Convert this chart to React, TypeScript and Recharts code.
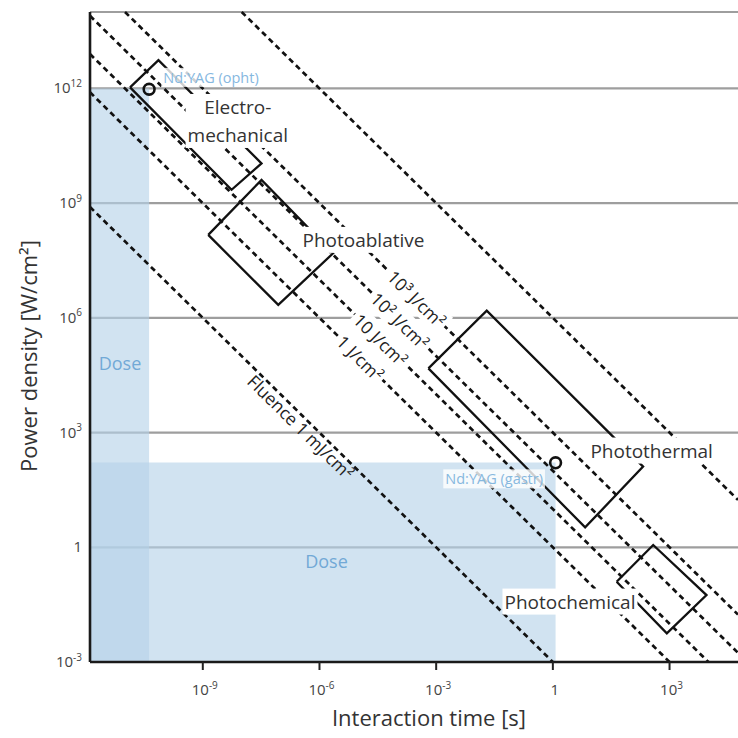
import React, { useLayoutEffect, useRef, useState } from 'react';
import {
  ComposedChart,
  XAxis,
  YAxis,
  CartesianGrid,
  ReferenceLine,
  ReferenceArea,
  ReferenceDot,
  Scatter,
} from 'recharts';

// ---- axes (log10 values) ----
const xDomain: [number, number] = [-11.9, 4.76]; // log10 interaction time [s]
const yDomain: [number, number] = [-3, 14]; // log10 power density [W/cm²]
const xTicks = [-9, -6, -3, 0, 3];
const yTicks = [-3, 0, 3, 6, 9, 12];

// ---- iso-fluence lines, log10 of fluence [J/cm²] ----
const fluences = [-3, 0, 1, 2, 3, 6];

// ---- fluence line labels (position in log10 t, log10 P) ----
const fluenceLabelText = ['10³ J/cm²', '10² J/cm²', '10 J/cm²', '1 J/cm²', 'Fluence 1 mJ/cm²'];
const fluenceLabelT = [-3.5, -3.93, -4.43, -4.95, -6.48];
const fluenceLabelP = [6.5, 5.93, 5.43, 4.95, 3.15];
const fluenceLabelBg = [true, true, true, true, false];

// ---- interaction regions (corners: left, top, right, bottom) ----
const electroT = [-10.87, -10.14, -7.49, -8.26];
const electroP = [12.03, 12.74, 10.04, 9.35];
const ablativeT = [-8.86, -7.49, -5.65, -7.06];
const ablativeP = [8.17, 9.61, 7.69, 6.34];
const thermalT = [-3.2, -1.7, 2.32, 0.83];
const thermalP = [4.68, 6.19, 2.11, 0.52];
const chemicalT = [1.64, 2.58, 3.95, 2.93];
const chemicalP = [-0.9, 0.06, -1.25, -2.25];

// ---- region names ----
const regionLines = [['Electro-', 'mechanical'], ['Photoablative'], ['Photothermal'], ['Photochemical']];
const regionLabelT = [-8.1, -4.87, 2.54, 0.44];
const regionLabelP = [11.15, 8.04, 2.53, -1.42];

// ---- Nd:YAG operating points ----
const ndyagNames = ['Nd:YAG (opht)', 'Nd:YAG (gastr)'];
const ndyagT = [-10.38, 0.07];
const ndyagP = [11.98, 2.21];
const ndyagLabelT = [-8.79, -1.51];
const ndyagLabelP = [12.29, 1.79];

// ---- dose bands ----
const doseBandT2 = [-10.38, 0.07];
const doseBandP2 = [12, 2.22];
const doseLabelT = [-11.13, -5.82];
const doseLabelP = [4.82, -0.37];

const FONT = '"Open Sans", "Noto Sans", sans-serif';
const INK = '#111';
const ANGLE = 44.5;

const toCorners = (ts: number[], ps: number[]) => {
  const pts = ts.map((t, i) => ({ x: t, y: ps[i] }));
  return [...pts, pts[0]];
};

const regions = [
  toCorners(electroT, electroP),
  toCorners(ablativeT, ablativeP),
  toCorners(thermalT, thermalP),
  toCorners(chemicalT, chemicalP),
];

const fluenceSegments = fluences.map((f) => {
  const t0 = Math.max(xDomain[0], f - yDomain[1]);
  const t1 = Math.min(xDomain[1], f - yDomain[0]);
  return [
    { x: t0, y: f - t0 },
    { x: t1, y: f - t1 },
  ];
});

type BoxedProps = {
  cx: number;
  cy: number;
  lines: string[];
  size: number;
  color: string;
  bg?: number;
  gap?: number;
  rotate?: number;
  padX?: number;
  padY?: number;
};

const BoxedText = ({ cx, cy, lines, size, color, bg = 0, gap = 0, rotate = 0, padX = 2, padY = 0 }: BoxedProps) => {
  const ref = useRef<SVGGElement>(null);
  const [box, setBox] = useState<{ x: number; y: number; width: number; height: number } | null>(null);
  useLayoutEffect(() => {
    if (ref.current && bg) {
      const b = ref.current.getBBox();
      setBox({ x: b.x, y: b.y, width: b.width, height: b.height });
    }
  }, []);
  const n = lines.length;
  return (
    <g transform={`translate(${cx},${cy}) rotate(${rotate})`}>
      {bg && box ? (
        <rect
          x={box.x - padX}
          y={box.y - padY}
          width={box.width + 2 * padX}
          height={box.height + 2 * padY}
          fill="#fff"
          fillOpacity={bg}
        />
      ) : null}
      <g ref={ref}>
        {lines.map((ln, i) => (
          <text
            key={i}
            x={0}
            y={(i - (n - 1) / 2) * gap}
            textAnchor="middle"
            dominantBaseline="central"
            fontFamily={FONT}
            fontSize={size}
            fill={color}
          >
            {ln}
          </text>
        ))}
      </g>
    </g>
  );
};

const makeTextLabel =
  (lines: string[], opts: { size: number; color: string; bg?: number; gap?: number; rotate?: number; padX?: number }) =>
  (props: any) => {
    const vb = props.viewBox || {};
    const cx = (vb.x || 0) + (vb.width || 0) / 2;
    const cy = (vb.y || 0) + (vb.height || 0) / 2;
    return <BoxedText cx={cx} cy={cy} lines={lines} {...opts} />;
  };

const PowTen = ({ v }: { v: number }) =>
  v === 0 ? (
    <>1</>
  ) : (
    <>
      10
      <tspan dy={-6.5} fontSize={10}>
        {v}
      </tspan>
    </>
  );

const XTick = (props: any) => {
  const { x, y, payload } = props;
  return (
    <text x={x + 2} y={y + 23} textAnchor="middle" fill="#444" fontSize={15} fontFamily={FONT}>
      <PowTen v={payload.value} />
    </text>
  );
};

const YTick = (props: any) => {
  const { x, y, payload } = props;
  return (
    <text x={x} y={y + 5} textAnchor="end" fill="#444" fontSize={15} fontFamily={FONT}>
      <PowTen v={payload.value} />
    </text>
  );
};

const XTitle = (props: any) => {
  const vb = props.viewBox || {};
  return (
    <text
      x={vb.x + vb.width / 2 + 15}
      y={vb.y + 64}
      textAnchor="middle"
      fontFamily={FONT}
      fontSize={22}
      fill="#333"
    >
      Interaction time [s]
    </text>
  );
};

const YTitle = (props: any) => {
  const vb = props.viewBox || {};
  const cx = vb.x + 28;
  const cy = vb.y + vb.height / 2 + 19;
  return (
    <text
      transform={`translate(${cx},${cy}) rotate(-90)`}
      textAnchor="middle"
      dominantBaseline="central"
      fontFamily={FONT}
      fontSize={22}
      fill="#333"
    >
      Power density [W/cm²]
    </text>
  );
};

const NoShape = () => <g />;

export default function App() {
  return (
    <div style={{ position: 'absolute', left: 0, top: 0, width: 738, height: 738, background: '#fff' }}>
      <ComposedChart width={738} height={738} margin={{ top: 12, right: 0, bottom: 0, left: 0 }}>
        <CartesianGrid horizontal vertical={false} stroke="#9e9e9e" strokeWidth={2.2} />
        <XAxis
          type="number"
          dataKey="x"
          domain={xDomain}
          allowDataOverflow
          ticks={xTicks}
          interval={0}
          height={76}
          tickSize={8}
          tickMargin={2}
          tick={XTick}
          tickLine={{ stroke: '#222', strokeWidth: 2 }}
          axisLine={{ stroke: '#1a1a1a', strokeWidth: 2.6 }}
          label={{ content: XTitle }}
        />
        <YAxis
          type="number"
          dataKey="y"
          domain={yDomain}
          allowDataOverflow
          ticks={yTicks}
          interval={0}
          width={90}
          tickSize={6}
          tickMargin={2}
          tickLine={false}
          tick={YTick}
          axisLine={{ stroke: '#1a1a1a', strokeWidth: 2.6 }}
          label={{ content: YTitle }}
        />

        {doseBandT2.map((t2, i) => (
          <ReferenceArea
            key={`band${i}`}
            x1={xDomain[0]}
            x2={t2}
            y1={yDomain[0]}
            y2={doseBandP2[i]}
            fill="rgb(181,210,233)"
            fillOpacity={0.62}
            stroke="none"
            ifOverflow="visible"
          />
        ))}

        {fluenceSegments.map((seg, i) => (
          <ReferenceLine
            key={`fl${i}`}
            segment={seg}
            stroke={INK}
            strokeWidth={2.7}
            strokeDasharray="5.5 4"
            ifOverflow="visible"
          />
        ))}

        {regions.map((pts, i) => (
          <Scatter
            key={`reg${i}`}
            data={pts}
            line={{ stroke: INK, strokeWidth: 2.3 }}
            lineType="joint"
            shape={NoShape}
            isAnimationActive={false}
          />
        ))}

        {ndyagT.map((t, i) => (
          <ReferenceDot
            key={`pt${i}`}
            x={t}
            y={ndyagP[i]}
            r={5.4}
            fill="none"
            stroke={INK}
            strokeWidth={2.6}
            ifOverflow="visible"
          />
        ))}

        {doseLabelT.map((t, i) => (
          <ReferenceDot
            key={`dl${i}`}
            x={t}
            y={doseLabelP[i]}
            r={0}
            fill="none"
            stroke="none"
            ifOverflow="visible"
            label={makeTextLabel(['Dose'], { size: 18, color: '#72a9d6' })}
          />
        ))}

        {fluenceLabelText.map((txt, i) => (
          <ReferenceDot
            key={`fll${i}`}
            x={fluenceLabelT[i]}
            y={fluenceLabelP[i]}
            r={0}
            fill="none"
            stroke="none"
            ifOverflow="visible"
            label={makeTextLabel([txt], {
              size: 17.5,
              color: '#222',
              bg: fluenceLabelBg[i] ? 1 : 0,
              rotate: ANGLE,
              padX: 3,
            })}
          />
        ))}

        {regionLines.map((lines, i) => (
          <ReferenceDot
            key={`rl${i}`}
            x={regionLabelT[i]}
            y={regionLabelP[i]}
            r={0}
            fill="none"
            stroke="none"
            ifOverflow="visible"
            label={makeTextLabel(lines, { size: 19, color: '#333', bg: 1, gap: 28 })}
          />
        ))}

        {ndyagNames.map((nm, i) => (
          <ReferenceDot
            key={`nl${i}`}
            x={ndyagLabelT[i]}
            y={ndyagLabelP[i]}
            r={0}
            fill="none"
            stroke="none"
            ifOverflow="visible"
            label={makeTextLabel([nm], { size: 14.5, color: '#86b8df', bg: 0.8 })}
          />
        ))}
      </ComposedChart>
    </div>
  );
}
